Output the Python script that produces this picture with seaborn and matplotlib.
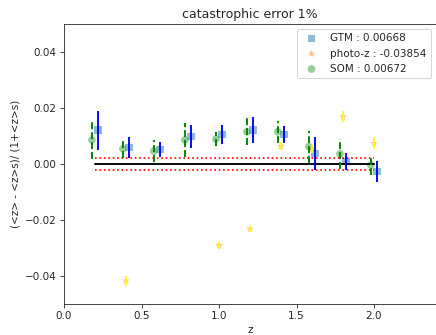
import numpy as np
import pandas as pd
import seaborn as sns
import matplotlib.pyplot as plt

z_bins = [0.2, 0.4, 0.6, 0.8, 1.0, 1.2, 1.4, 1.6, 1.8, 2.0]

som_bias = [0.0086, 0.0054, 0.0046, 0.0086, 0.0089, 0.0115, 0.0115, 0.0062, 0.0036, -0.0004]
som_err = [0.0067, 0.0032, 0.0040, 0.0060, 0.0025, 0.0048, 0.0040, 0.0057, 0.0053, 0.0034]

gtm_bias = [0.0121, 0.0060, 0.0052, 0.0098, 0.0106, 0.0121, 0.0106, 0.0038, 0.0008, -0.0027]
gtm_err = [0.0070, 0.0038, 0.0028, 0.0040, 0.0034, 0.0046, 0.0030, 0.0060, 0.0030, 0.0037]

pz_bias = [-0.120, -0.0417, -0.105, -0.102, -0.0290, -0.0232, 0.0064, 0.0054, 0.0169, 0.0074]
pz_err = [0.0015, 0.0018, 0.0015, 0.0015, 0.0012, 0.0012, 0.0015, 0.0015, 0.0020, 0.0022]

sns.set_style('ticks')
dpi = 75
fig = plt.figure(figsize=(436/dpi, 335/dpi), dpi=dpi)
ax = fig.add_axes([64/436, 31/335, 372/436, 280/335])

z = np.array(z_bins)
df_gtm = pd.DataFrame({'z': z + 0.02, 'b': gtm_bias})
df_pz = pd.DataFrame({'z': z, 'b': pz_bias})
df_som = pd.DataFrame({'z': z - 0.02, 'b': som_bias})

ax.plot([0.2, 2.0], [0, 0], color='black', lw=1.8)
ax.plot([0.2, 2.0], [0.002, 0.002], color='red', ls=':', lw=1.6)
ax.plot([0.2, 2.0], [-0.002, -0.002], color='red', ls=':', lw=1.6)

eb = ax.errorbar(df_som['z'], df_som['b'], yerr=som_err, fmt='none', ecolor='green', elinewidth=1.8)
eb[2][0].set_linestyle('--')
sns.scatterplot(data=df_gtm, x='z', y='b', marker='s', s=50, color='tab:blue', alpha=0.5,
                edgecolor='none', label='GTM : 0.00668', ax=ax)
ax.errorbar(df_gtm['z'], df_gtm['b'], yerr=gtm_err, fmt='none', ecolor='blue', elinewidth=1.8)
ax.errorbar(df_pz['z'], df_pz['b'], yerr=pz_err, fmt='none', ecolor='yellow', elinewidth=1.6)
sns.scatterplot(data=df_pz, x='z', y='b', marker='*', s=60, color='tab:orange', alpha=0.5,
                edgecolor='none', label='photo-z : -0.03854', ax=ax)
sns.scatterplot(data=df_som, x='z', y='b', marker='o', s=55, color='tab:green', alpha=0.5,
                edgecolor='none', label='SOM : 0.00672', ax=ax)

ax.set_xlim(0, 2.4)
ax.set_ylim(-0.05, 0.05)
ax.set_yticks([-0.04, -0.02, 0.0, 0.02, 0.04])
ax.set_xlabel('z')
ax.set_ylabel('(<z> - <z>s)/ (1+<z>s)')
ax.set_title('catastrophic error 1%')
ax.legend(loc='upper right')

fig.savefig('out.png', dpi=dpi)
